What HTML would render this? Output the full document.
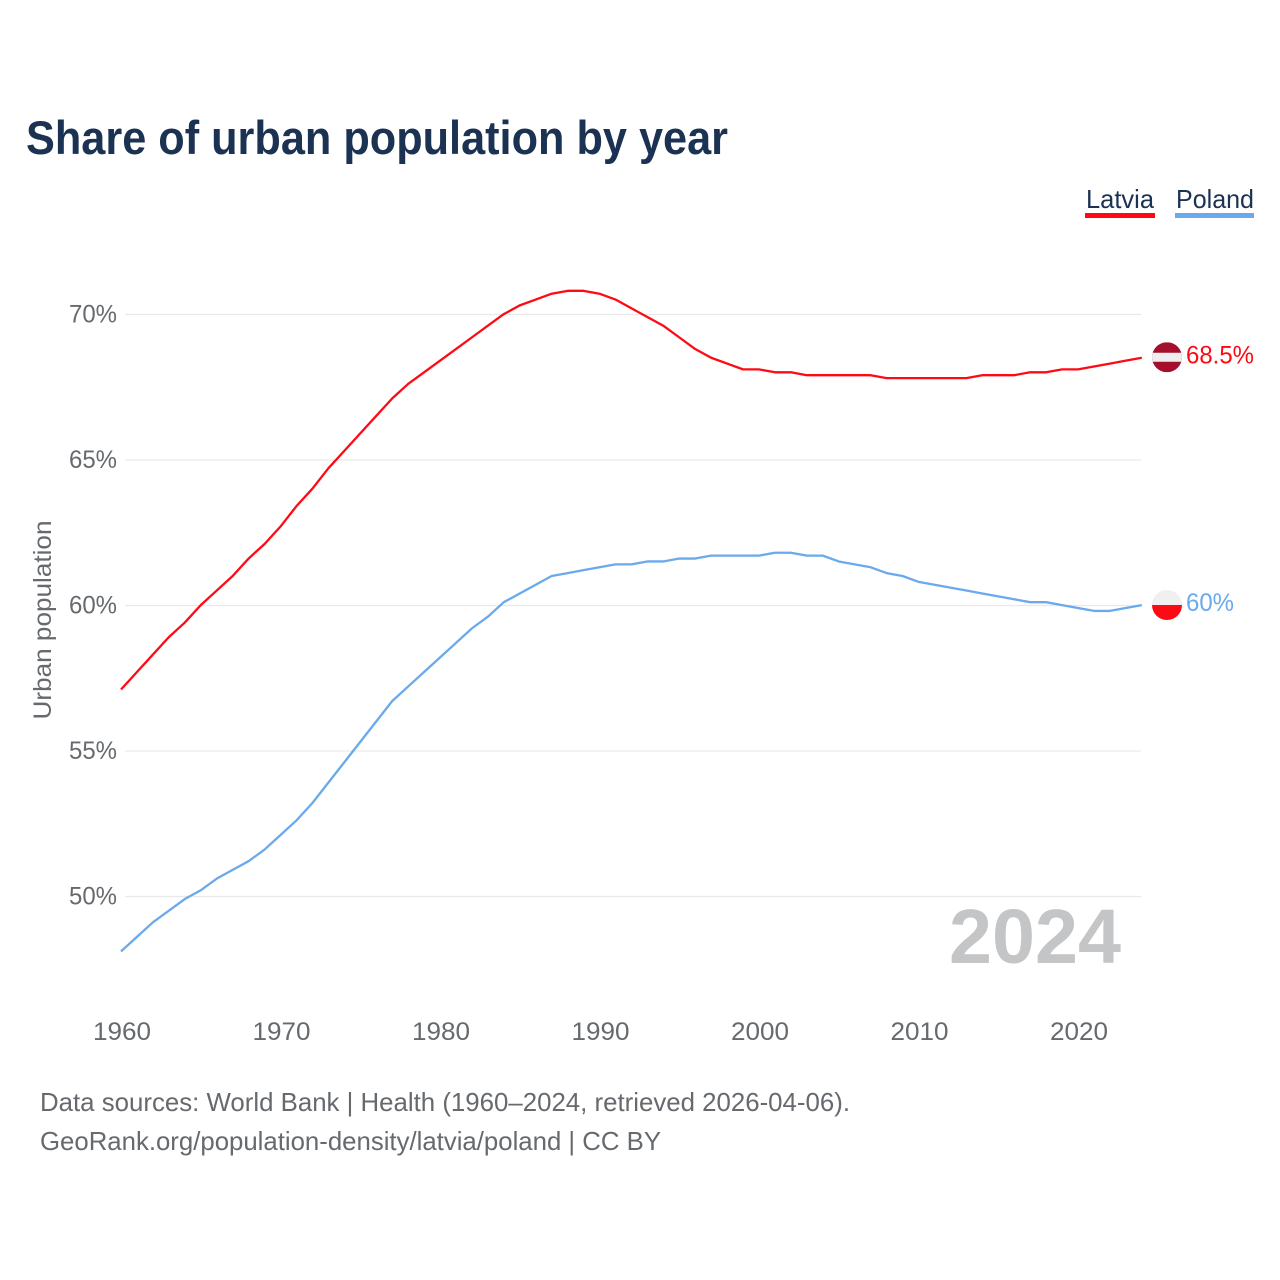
<!DOCTYPE html>
<html lang="en">
<head>
<meta charset="utf-8">
<title>Share of urban population by year</title>
<style>
html,body{margin:0;padding:0;background:#fff;width:1280px;height:1280px;overflow:hidden}
svg{display:block}
text{font-family:"Liberation Sans",sans-serif}
</style>
</head>
<body>
<svg id="chart" xmlns="http://www.w3.org/2000/svg" width="1280" height="1280" viewBox="0 0 1280 1280">
  <rect width="1280" height="1280" fill="#fff"/>
  <text x="26" y="154" font-size="47" font-weight="700" fill="#1b3252" textLength="702" lengthAdjust="spacingAndGlyphs">Share of urban population by year</text>

  <g>
    <text x="1086" y="208" font-size="26" fill="#1b3252" textLength="68" lengthAdjust="spacingAndGlyphs">Latvia</text>
    <rect x="1085" y="213" width="70" height="5" fill="#ff0a14"/>
  </g>
  <g>
    <text x="1176" y="208" font-size="26" fill="#1b3252" textLength="78" lengthAdjust="spacingAndGlyphs">Poland</text>
    <rect x="1175" y="213" width="79" height="5" fill="#6aa9ec"/>
  </g>

  <g id="grid"></g>
  <g id="yticks"></g>
  <g id="xticks"></g>

  <text transform="translate(51,620) rotate(-90)" text-anchor="middle" font-size="25" fill="#666a6e" textLength="199" lengthAdjust="spacingAndGlyphs">Urban population</text>

  <text x="949" y="963" font-size="77" font-weight="700" fill="#c4c5c7" textLength="172" lengthAdjust="spacingAndGlyphs">2024</text>

  <g id="series"></g>

  <g id="ends"></g>

  <text x="40" y="1111" font-size="26" fill="#666a6e" textLength="810" lengthAdjust="spacingAndGlyphs">Data sources: World Bank | Health (1960–2024, retrieved 2026-04-06).</text>
  <text x="40" y="1150" font-size="26" fill="#666a6e" textLength="621" lengthAdjust="spacingAndGlyphs">GeoRank.org/population-density/latvia/poland | CC BY</text>
</svg>
<script>
const startYear = 1960;
const latviaValues = [57.1,57.7,58.3,58.9,59.4,60.0,60.5,61.0,61.6,62.1,62.7,63.4,64.0,64.7,65.3,65.9,66.5,67.1,67.6,68.0,68.4,68.8,69.2,69.6,70.0,70.3,70.5,70.7,70.8,70.8,70.7,70.5,70.2,69.9,69.6,69.2,68.8,68.5,68.3,68.1,68.1,68.0,68.0,67.9,67.9,67.9,67.9,67.9,67.8,67.8,67.8,67.8,67.8,67.8,67.9,67.9,67.9,68.0,68.0,68.1,68.1,68.2,68.3,68.4,68.5];
const polandValues = [48.1,48.6,49.1,49.5,49.9,50.2,50.6,50.9,51.2,51.6,52.1,52.6,53.2,53.9,54.6,55.3,56.0,56.7,57.2,57.7,58.2,58.7,59.2,59.6,60.1,60.4,60.7,61.0,61.1,61.2,61.3,61.4,61.4,61.5,61.5,61.6,61.6,61.7,61.7,61.7,61.7,61.8,61.8,61.7,61.7,61.5,61.4,61.3,61.1,61.0,60.8,60.7,60.6,60.5,60.4,60.3,60.2,60.1,60.1,60.0,59.9,59.8,59.8,59.9,60.0];
const yTickValues = [50,55,60,65,70];
const xTickYears = [1960,1970,1980,1990,2000,2010,2020];

const NS = 'http://www.w3.org/2000/svg';
function xScale(year){ return 121 + (year - 1960) * 15.95; }
function yScale(value){ return 314.5 + (70 - value) * 29.1; }
function mk(tag, attrs, parent){
  const el = document.createElementNS(NS, tag);
  for (const k in attrs) el.setAttribute(k, attrs[k]);
  parent.appendChild(el);
  return el;
}

const grid = document.getElementById('grid');
const yticks = document.getElementById('yticks');
const xticks = document.getElementById('xticks');
const seriesGroup = document.getElementById('series');
const ends = document.getElementById('ends');

yTickValues.forEach(function(v){
  const line = mk('line', {x1:125, x2:1141, y1:yScale(v), y2:yScale(v), stroke:'#e9e9e9', 'stroke-width':1.2}, grid);
  
  
  const t = mk('text', {x:117, y:yScale(v)+8, 'text-anchor':'end', 'font-size':25, fill:'#666a6e', textLength:48, lengthAdjust:'spacingAndGlyphs'}, yticks);
  t.textContent = v + '%';
  
  
});

xTickYears.forEach(function(y){
  const t = mk('text', {x:xScale(y)+1, y:1040, 'text-anchor':'middle', 'font-size':25, fill:'#666a6e', textLength:58, lengthAdjust:'spacingAndGlyphs'}, xticks);
  t.textContent = y;
  
  
});

function drawLine(values, color, name){
  const pts = values.map(function(v, i){ return xScale(startYear + i).toFixed(2) + ',' + (yScale(v) - 0.4).toFixed(2); }).join(' ');
  const line = mk('polyline', {points:pts, fill:'none', stroke:color, 'stroke-width':2.3, 'stroke-linejoin':'round'}, seriesGroup);
  
  
}
drawLine(latviaValues, '#ff0a14', 'line-latvia');
drawLine(polandValues, '#6aa9ec', 'line-poland');

const latviaLast = latviaValues[latviaValues.length - 1];
const polandLast = polandValues[polandValues.length - 1];
const lyEnd = yScale(latviaLast) - 0.9;
const pyEnd = yScale(polandLast) - 0.5;

const lClip = mk('clipPath', {id:'clip-latvia'}, ends);
mk('circle', {cx:1167, cy:lyEnd, r:15}, lClip);
const pClip = mk('clipPath', {id:'clip-poland'}, ends);
mk('circle', {cx:1167, cy:pyEnd, r:15}, pClip);

const lFlag = mk('g', {'clip-path':'url(#clip-latvia)'}, ends);


mk('rect', {x:1152, y:lyEnd-15, width:30, height:30, fill:'#a50e2d'}, lFlag);
mk('rect', {x:1152, y:lyEnd-4.5, width:30, height:9, fill:'#eeeeee'}, lFlag);

const pFlag = mk('g', {'clip-path':'url(#clip-poland)'}, ends);


mk('rect', {x:1152, y:pyEnd-15, width:30, height:15, fill:'#f0f0f0'}, pFlag);
mk('rect', {x:1152, y:pyEnd, width:30, height:15, fill:'#ff0a14'}, pFlag);

const lLabel = mk('text', {x:1186, y:lyEnd+6, 'font-size':25, fill:'#ff0a14', textLength:68, lengthAdjust:'spacingAndGlyphs'}, ends);
lLabel.textContent = latviaLast + '%';



const pLabel = mk('text', {x:1186, y:pyEnd+6, 'font-size':25, fill:'#6aa9ec', textLength:48, lengthAdjust:'spacingAndGlyphs'}, ends);
pLabel.textContent = polandLast + '%';


</script>
</body>
</html>
